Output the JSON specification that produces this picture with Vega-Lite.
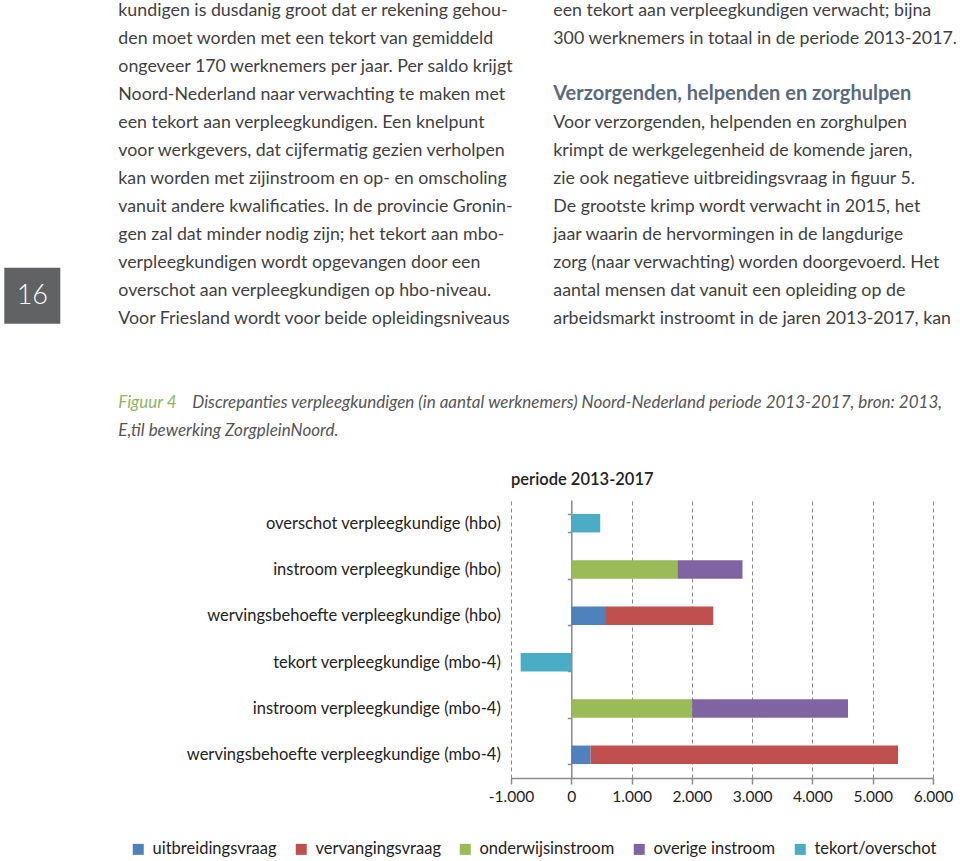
{
  "$schema": "https://vega.github.io/schema/vega-lite/v6.json",
  "padding": 0,
  "background": "white",
  "spacing": 26,
  "config": {"view": {"stroke": null}, "font": "Lato"},
  "datasets": {
    "pagina": [
      {"soort": "paginanummer", "kolom": 0, "regel": 11, "tekst": "16"},
      {"soort": "tekst", "kolom": 1, "regel": 1, "tekst": "kundigen is dusdanig groot dat er rekening gehou-"},
      {"soort": "tekst", "kolom": 1, "regel": 2, "tekst": "den moet worden met een tekort van gemiddeld"},
      {"soort": "tekst", "kolom": 1, "regel": 3, "tekst": "ongeveer 170 werknemers per jaar. Per saldo krijgt"},
      {"soort": "tekst", "kolom": 1, "regel": 4, "tekst": "Noord-Nederland naar verwachting te maken met"},
      {"soort": "tekst", "kolom": 1, "regel": 5, "tekst": "een tekort aan verpleegkundigen. Een knelpunt"},
      {"soort": "tekst", "kolom": 1, "regel": 6, "tekst": "voor werkgevers, dat cijfermatig gezien verholpen"},
      {"soort": "tekst", "kolom": 1, "regel": 7, "tekst": "kan worden met zijinstroom en op- en omscholing"},
      {"soort": "tekst", "kolom": 1, "regel": 8, "tekst": "vanuit andere kwalificaties. In de provincie Gronin-"},
      {"soort": "tekst", "kolom": 1, "regel": 9, "tekst": "gen zal dat minder nodig zijn; het tekort aan mbo-"},
      {"soort": "tekst", "kolom": 1, "regel": 10, "tekst": "verpleegkundigen wordt opgevangen door een"},
      {"soort": "tekst", "kolom": 1, "regel": 11, "tekst": "overschot aan verpleegkundigen op hbo-niveau."},
      {"soort": "tekst", "kolom": 1, "regel": 12, "tekst": "Voor Friesland wordt voor beide opleidingsniveaus"},
      {"soort": "tekst", "kolom": 3, "regel": 1, "tekst": "een tekort aan verpleegkundigen verwacht; bijna"},
      {"soort": "tekst", "kolom": 3, "regel": 2, "tekst": "300 werknemers in totaal in de periode 2013-2017."},
      {"soort": "kop", "kolom": 3, "regel": 4, "tekst": "Verzorgenden, helpenden en zorghulpen"},
      {"soort": "tekst", "kolom": 3, "regel": 5, "tekst": "Voor verzorgenden, helpenden en zorghulpen"},
      {"soort": "tekst", "kolom": 3, "regel": 6, "tekst": "krimpt de werkgelegenheid de komende jaren,"},
      {"soort": "tekst", "kolom": 3, "regel": 7, "tekst": "zie ook negatieve uitbreidingsvraag in figuur 5."},
      {"soort": "tekst", "kolom": 3, "regel": 8, "tekst": "De grootste krimp wordt verwacht in 2015, het"},
      {"soort": "tekst", "kolom": 3, "regel": 9, "tekst": "jaar waarin de hervormingen in de langdurige"},
      {"soort": "tekst", "kolom": 3, "regel": 10, "tekst": "zorg (naar verwachting) worden doorgevoerd. Het"},
      {"soort": "tekst", "kolom": 3, "regel": 11, "tekst": "aantal mensen dat vanuit een opleiding op de"},
      {"soort": "tekst", "kolom": 3, "regel": 12, "tekst": "arbeidsmarkt instroomt in de jaren 2013-2017, kan"},
      {"soort": "figuurlabel", "kolom": 1, "regel": 15, "tekst": "Figuur 4"},
      {"soort": "bijschrift", "kolom": 2, "regel": 15, "tekst": "Discrepanties verpleegkundigen (in aantal werknemers) Noord-Nederland periode 2013-2017, bron: 2013,"},
      {"soort": "bijschrift", "kolom": 1, "regel": 16, "tekst": "E,til bewerking ZorgpleinNoord."}
    ],
    "discrepanties": [
      {"categorie": "overschot verpleegkundige (hbo)", "component": "tekort/overschot", "aantal": 480},
      {"categorie": "instroom verpleegkundige (hbo)", "component": "onderwijsinstroom", "aantal": 1760},
      {"categorie": "instroom verpleegkundige (hbo)", "component": "overige instroom", "aantal": 1080},
      {"categorie": "wervingsbehoefte verpleegkundige (hbo)", "component": "uitbreidingsvraag", "aantal": 560},
      {"categorie": "wervingsbehoefte verpleegkundige (hbo)", "component": "vervangingsvraag", "aantal": 1795},
      {"categorie": "tekort verpleegkundige (mbo-4)", "component": "tekort/overschot", "aantal": -840},
      {"categorie": "instroom verpleegkundige (mbo-4)", "component": "onderwijsinstroom", "aantal": 2005},
      {"categorie": "instroom verpleegkundige (mbo-4)", "component": "overige instroom", "aantal": 2585},
      {"categorie": "wervingsbehoefte verpleegkundige (mbo-4)", "component": "uitbreidingsvraag", "aantal": 320},
      {"categorie": "wervingsbehoefte verpleegkundige (mbo-4)", "component": "vervangingsvraag", "aantal": 5100}
    ]
  },
  "vconcat": [
    {
      "width": 960,
      "height": 445,
      "data": {"name": "pagina"},
      "encoding": {
        "x": {"field": "kolom", "type": "quantitative", "axis": null,
              "scale": {"domain": [0, 1, 2, 3], "range": [-478.7, -392.7, -318.7, 42.3], "nice": false, "zero": false}},
        "y": {"field": "regel", "type": "quantitative", "axis": null,
              "scale": {"domain": [1, 16], "range": [15.5, 436], "nice": false, "zero": false}}
      },
      "layer": [
        {
          "transform": [{"filter": "datum.soort === 'paginanummer'"}],
          "mark": {"type": "point", "shape": "square", "size": 3136, "filled": true, "opacity": 1, "color": "#616264"}
        },
        {
          "transform": [{"filter": "datum.soort === 'paginanummer'"}],
          "mark": {"type": "text", "align": "center", "baseline": "middle", "fontSize": 27, "fontWeight": 300, "color": "#ffffff"},
          "encoding": {"text": {"field": "tekst"}}
        },
        {
          "transform": [{"filter": "datum.soort === 'tekst'"}],
          "mark": {"type": "text", "align": "left", "baseline": "alphabetic", "fontSize": 17.8, "color": "#3f3f3f"},
          "encoding": {"text": {"field": "tekst"}}
        },
        {
          "transform": [{"filter": "datum.soort === 'kop'"}],
          "mark": {"type": "text", "align": "left", "baseline": "alphabetic", "fontSize": 20, "fontWeight": "bold", "color": "#5a6a7b"},
          "encoding": {"text": {"field": "tekst"}}
        },
        {
          "transform": [{"filter": "datum.soort === 'figuurlabel'"}],
          "mark": {"type": "text", "align": "left", "baseline": "alphabetic", "fontSize": 17, "fontStyle": "italic", "color": "#8cb464"},
          "encoding": {"text": {"field": "tekst"}}
        },
        {
          "transform": [{"filter": "datum.soort === 'bijschrift'"}],
          "mark": {"type": "text", "align": "left", "baseline": "alphabetic", "fontSize": 17, "fontStyle": "italic", "color": "#555555"},
          "encoding": {"text": {"field": "tekst"}}
        }
      ]
    },
    {
      "width": 422,
      "height": 278,
      "data": {"name": "discrepanties"},
      "title": {"text": "periode 2013-2017", "anchor": "start", "frame": "group", "fontSize": 16.5, "fontWeight": 600, "color": "#222222", "offset": 4},
      "layer": [
        {
          "mark": {"type": "bar"},
          "encoding": {
            "y": {
              "field": "categorie", "type": "nominal",
              "sort": ["overschot verpleegkundige (hbo)", "instroom verpleegkundige (hbo)", "wervingsbehoefte verpleegkundige (hbo)", "tekort verpleegkundige (mbo-4)", "instroom verpleegkundige (mbo-4)", "wervingsbehoefte verpleegkundige (mbo-4)"],
              "scale": {"paddingInner": 0.6, "paddingOuter": 0.3},
              "axis": {
                "orient": "left", "offset": -60.3, "title": null, "grid": false,
                "domain": true, "domainColor": "#8a8a8a", "domainWidth": 1.5,
                "ticks": true, "tickBand": "extent", "tickSize": 4, "tickColor": "#8a8a8a", "tickWidth": 1.5,
                "labelPadding": 67, "labelFontSize": 16.5, "labelColor": "#222222", "labelLimit": 500,
                "minExtent": 571, "maxExtent": 571
              }
            },
            "x": {
              "field": "aantal", "type": "quantitative", "stack": "zero",
              "scale": {"domain": [-1000, 6000], "nice": false, "zero": false},
              "axis": {
                "title": null, "values": [-1000, 0, 1000, 2000, 3000, 4000, 5000, 6000],
                "labelExpr": "(datum.value < 0 ? '-' : '') + replace(format(abs(datum.value), ','), ',', '.')",
                "grid": true, "gridDash": [4, 3], "gridColor": "#8a8a8a", "gridWidth": 1,
                "domainColor": "#8a8a8a", "domainWidth": 1.5, "tickColor": "#8a8a8a", "tickSize": 6, "tickWidth": 1.5,
                "labelFontSize": 15.5, "labelColor": "#222222", "labelPadding": 5, "labelFlush": false, "labelOverlap": false
              }
            },
            "color": {
              "field": "component", "type": "nominal",
              "scale": {
                "domain": ["uitbreidingsvraag", "vervangingsvraag", "onderwijsinstroom", "overige instroom", "tekort/overschot"],
                "range": ["#4f81bd", "#c0504d", "#9bbb59", "#8064a2", "#4bacc6"]
              },
              "legend": {
                "orient": "none", "legendX": -381, "legendY": 841, "direction": "horizontal", "title": null,
                "symbolType": "square", "symbolSize": 121, "symbolStrokeWidth": 0, "symbolOpacity": 1,
                "labelFontSize": 16.5, "labelColor": "#222222", "labelOffset": 6, "columnPadding": 16
              }
            }
          }
        }
      ]
    }
  ]
}
